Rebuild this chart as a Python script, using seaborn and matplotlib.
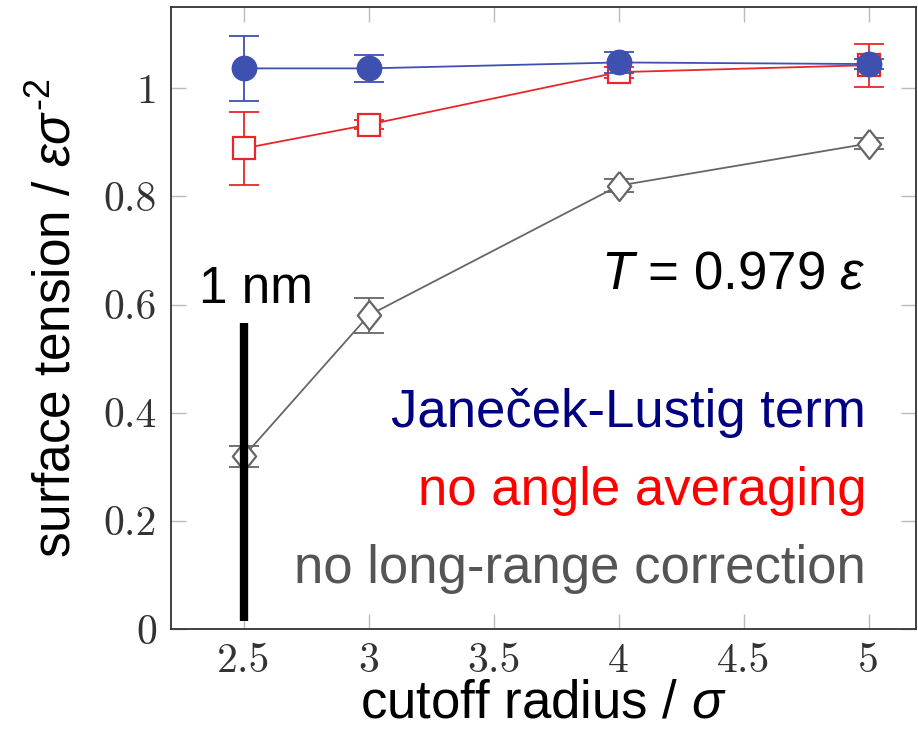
import numpy as np
import matplotlib
matplotlib.use("Agg")
import matplotlib.pyplot as plt
import seaborn as sns

sns.set_theme(style="white")
plt.rcParams["font.family"] = ["Liberation Sans", "DejaVu Sans"]
plt.rcParams["mathtext.fontset"] = "custom"
plt.rcParams["mathtext.rm"] = "Liberation Sans"
plt.rcParams["mathtext.it"] = "Liberation Sans:italic"
plt.rcParams["axes.unicode_minus"] = False

# cutoff radius / sigma
rc = [2.5, 3.0, 4.0, 5.0]

# Janecek-Lustig term
jl_val = [1.037, 1.037, 1.048, 1.045]
jl_err = [0.060, 0.025, 0.019, 0.010]

# no angle averaging
naa_val = [0.889, 0.933, 1.030, 1.043]
naa_err = [0.067, 0.008, 0.010, 0.040]

# no long-range correction
nlr_val = [0.319, 0.580, 0.820, 0.898]
nlr_err = [0.020, 0.033, 0.012, 0.010]

# 1 nm marker
nm_x = [2.5, 2.5]
nm_y = [0.015, 0.565]

blue = "#3f51b0"
red = "#e8262b"
grey = "#666666"

fig = plt.figure(figsize=(9.18, 7.32), dpi=100)
ax = fig.add_axes([0.186, 0.141, 0.812, 0.849])

diamond = [(0, 1), (0.8, 0), (0, -1), (-0.8, 0), (0, 1)]

series = [
    (nlr_val, nlr_err, grey, diamond, 21, "white", 2),
    (naa_val, naa_err, red, "s", 16, "white", 3),
    (jl_val, jl_err, blue, "o", 17, blue, 4),
]
for vals, errs, col, mk, ms, mfc, z in series:
    ax.errorbar(rc, vals, yerr=errs, fmt="none", ecolor=col, elinewidth=1.3,
                capsize=11, capthick=1.3, zorder=z)
    sns.lineplot(x=rc, y=vals, ax=ax, color=col, linewidth=1.3, marker=mk,
                 markersize=ms, markerfacecolor=mfc, markeredgecolor=col,
                 markeredgewidth=1.6, zorder=z + 0.5)

ax.plot(nm_x, nm_y, color="black", linewidth=6, solid_capstyle="butt", zorder=10)
ax.text(2.32, 0.628, "1 nm", fontsize=37, ha="left", va="center", color="black")

ax.text(4.99, 0.655, r"$T$ = 0.979 $\varepsilon$", fontsize=38, ha="right",
        va="center", color="black")
ax.text(4.99, 0.40, "Janeček-Lustig term", fontsize=38, ha="right", va="center",
        color="#000080")
ax.text(4.99, 0.255, "no angle averaging", fontsize=38, ha="right", va="center",
        color="#ff0000")
ax.text(4.99, 0.11, "no long-range correction", fontsize=38, ha="right",
        va="center", color="#555555")

ax.set_xlim(2.208, 5.19)
ax.set_ylim(0, 1.15)
ax.set_xticks([2.5, 3, 3.5, 4, 4.5, 5])
ax.set_xticklabels(["2.5", "3", "3.5", "4", "4.5", "5"])
ax.set_yticks([0, 0.2, 0.4, 0.6, 0.8, 1])
ax.set_yticklabels(["0", "0.2", "0.4", "0.6", "0.8", "1"])
for lab in ax.get_xticklabels() + ax.get_yticklabels():
    lab.set_fontfamily("cmr10")
    lab.set_fontsize(30)
    lab.set_color("#333333")

ax.tick_params(direction="in", length=11, width=1, color="#bbbbbb",
               top=True, right=True, bottom=True, left=True, pad=10)
ax.tick_params(axis="x", pad=10)
for sp in ax.spines.values():
    sp.set_color("#333333")
    sp.set_linewidth(1.3)

ax.set_xlabel(r"cutoff radius / $\sigma$", fontsize=38, color="black", labelpad=-1)
ax.set_ylabel("surface tension / $\\varepsilon\\sigma^{\u20102}$", fontsize=37,
              color="black", labelpad=16)

fig.savefig("out.png", dpi=100)
